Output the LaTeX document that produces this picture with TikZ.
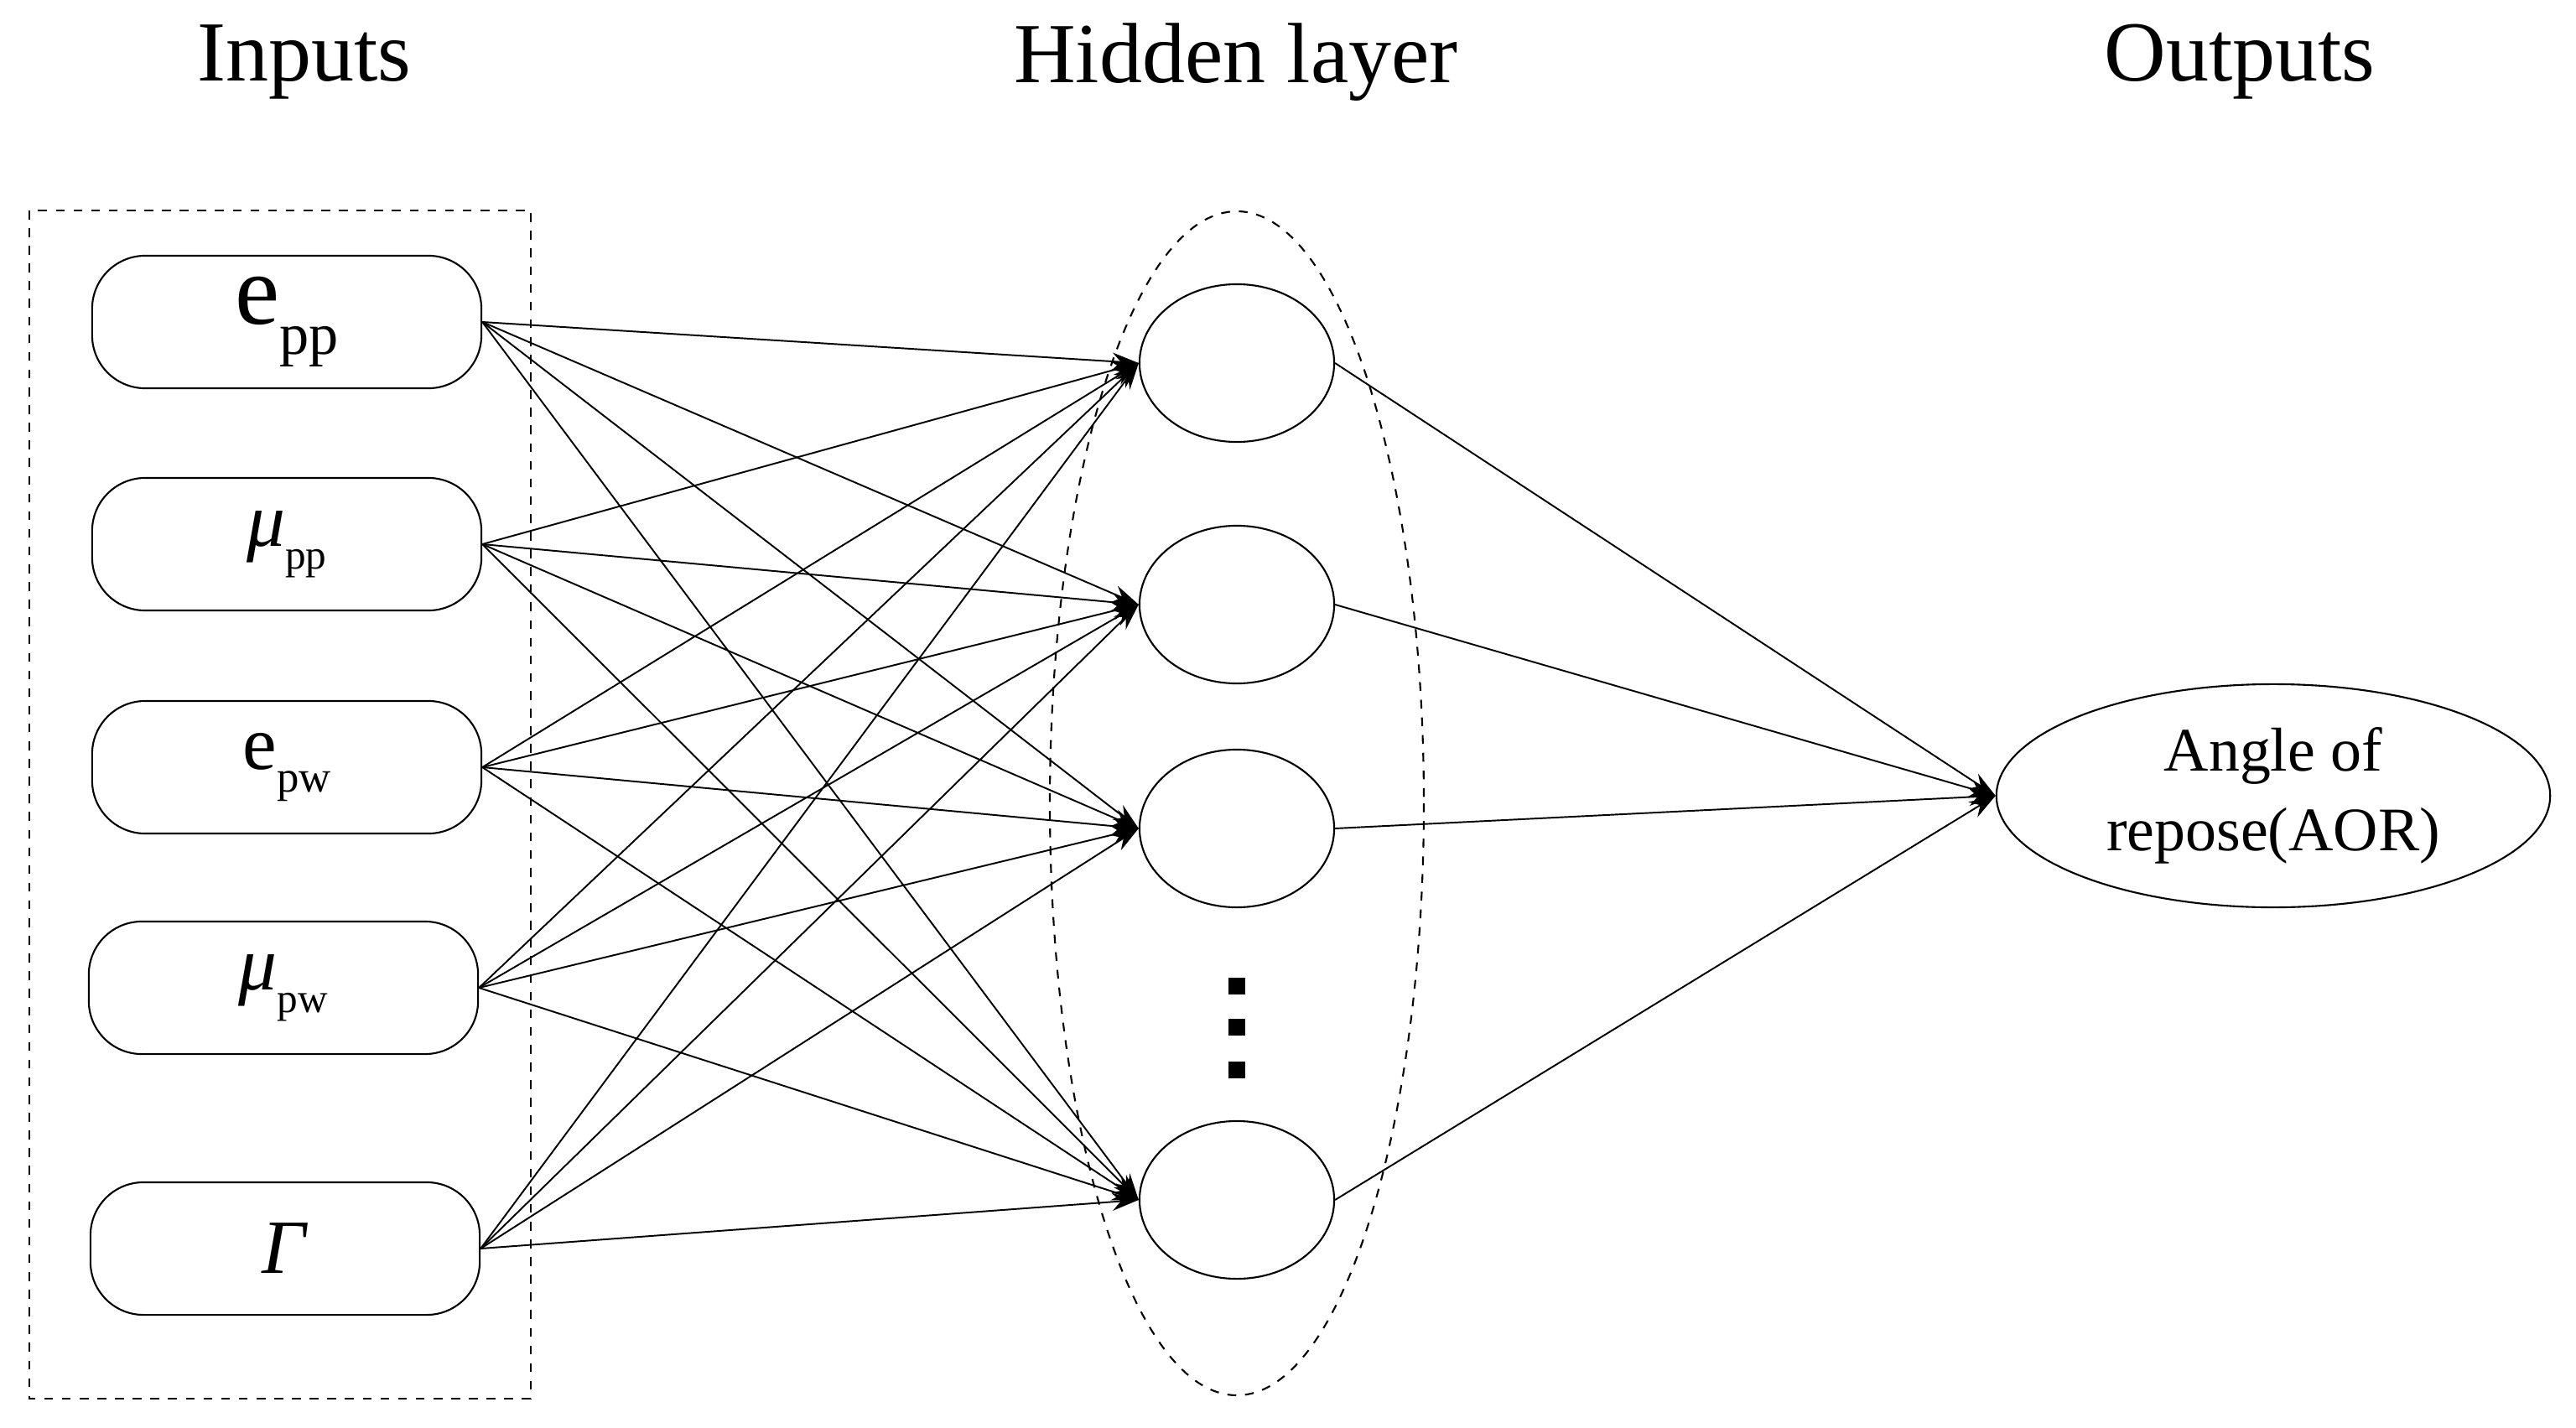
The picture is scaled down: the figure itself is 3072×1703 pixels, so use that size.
\documentclass[tikz,border=0pt]{standalone}
\usepackage{fontspec}
\setmainfont{Liberation Serif}
\usetikzlibrary{shapes.geometric,arrows.meta}
\begin{document}
\begin{tikzpicture}[x=0.01cm,y=-0.01cm,
  inbox/.style={draw,rounded corners=18,minimum width=4.64cm,minimum height=1.58cm,line width=0.6pt},
  neuron/.style={draw,ellipse,minimum width=2.32cm,minimum height=1.88cm,line width=0.6pt,inner sep=0},
  conn/.style={line width=0.55pt,-{Stealth[length=9pt,width=6pt]}},
  title/.style={font=\fontsize{29}{33}\selectfont},
  dot/.style={fill=black,minimum size=0.2cm,inner sep=0}]
\useasboundingbox (0,0) rectangle (3072,1703);
\node[title] (t1) at (363,74) {Inputs};
\node[title] (t2) at (1474,74) {Hidden layer};
\node[title] (t3) at (2671,74) {Outputs};
\draw[dashed,line width=0.7pt] (35,251) rectangle (633,1668);
\draw[dashed,line width=0.6pt] (1475,958) ellipse [x radius=223,y radius=706];
\node[inbox] (i1) at (342,384) {\fontsize{34}{38}\selectfont e\raisebox{-0.3em}{\fontsize{20}{22}\selectfont pp}};
\node[inbox] (i2) at (342,649) {\fontsize{26}{30}\selectfont\textit{μ}\raisebox{-0.3em}{\fontsize{14}{16}\selectfont pp}};
\node[inbox] (i3) at (342,915) {\fontsize{26}{30}\selectfont e\raisebox{-0.3em}{\fontsize{15}{17}\selectfont pw}};
\node[inbox] (i4) at (338,1178) {\fontsize{26}{30}\selectfont\textit{μ}\raisebox{-0.3em}{\fontsize{14}{16}\selectfont pw}};
\node[inbox] (i5) at (340,1489) {\fontsize{26}{30}\selectfont\textit{Γ}};
\node[neuron] (h1) at (1475,433) {};
\node[neuron] (h2) at (1475,721) {};
\node[neuron] (h3) at (1475,988) {};
\node[neuron] (h4) at (1475,1431) {};
\node[dot] (d1) at (1475,1176) {};
\node[dot] (d2) at (1475,1225) {};
\node[dot] (d3) at (1475,1276) {};
\node[draw,ellipse,minimum width=6.6cm,minimum height=2.66cm,line width=0.6pt,align=center,font=\fontsize{21}{27}\selectfont] (o) at (2711,949) {Angle of\\repose(AOR)};
\foreach \i in {i1,i2,i3,i4,i5}{
  \foreach \h in {h1,h2,h3,h4}{
    \draw[conn] (\i.east) -- (\h.west);
  }
}
\foreach \h in {h1,h2,h3,h4}{
  \draw[conn] (\h.east) -- (o.west);
}
\end{tikzpicture}
\end{document}
